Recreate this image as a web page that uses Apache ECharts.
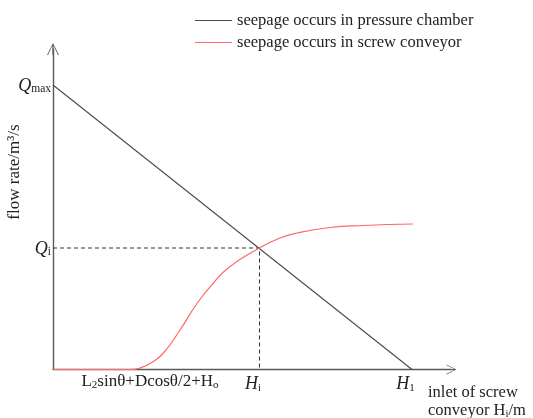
<!DOCTYPE html>
<html>
<head>
<meta charset="utf-8">
<script src="https://cdn.jsdelivr.net/npm/echarts@6/dist/echarts.min.js"></script>
<style>html,body{margin:0;padding:0;background:#fff;}#c{width:533px;height:418px;}</style>
</head>
<body>
<div id="c"></div>
<script>
// Data (axis units)
var seriesNames = ['seepage occurs in pressure chamber', 'seepage occurs in screw conveyor'];
var pressureChamber = [[0, 284.5], [359, 0]];
var screwConveyor = [[0, 0], [78, 0], [87, 1.5], [97, 6], [110, 16], [127, 39.5], [144, 66], [160, 86], [177, 103], [206.5, 121.5], [227, 131.5], [244, 136.5], [277, 142], [310, 144], [360, 145.5]];
var guideLine = [[0, 121.5], [206.5, 121.5], [206.5, 0]];
var xTickValues = [97, 206.5, 359];
var xTickLabels = ['L{sub|2}sinθ+Dcosθ/2+H{sub|o}', '{h|H}{hs|i}', '{h|H}{hs|1}'];
var yTickValues = [284.5, 121.5];
var yTickLabels = ['{q|Q}{sub|max}', '{q|Q}{sub|i}'];
var yAxisName = 'flow rate/m³/s';
var xAxisName = 'inlet of screw\nconveyor H{s|i}/m';

var FONT = '"Liberation Serif", "DejaVu Serif", serif';
var AX = '#5a5a5a';
var arrowPath = 'path://M0,12 L6,0 L12,12 L11,12 L6.6,2.8 L6.6,12 L5.4,12 L5.4,2.8 L1,12 Z';

var chart = echarts.init(document.getElementById('c'));
chart.setOption({
  backgroundColor: '#fff',
  animation: false,
  textStyle: {fontFamily: FONT},
  legend: {
    orient: 'vertical', left: 195, top: 12, padding: 0, itemWidth: 37, itemHeight: 1, itemGap: 5,
    icon: 'rect', data: seriesNames,
    textStyle: {fontFamily: FONT, fontSize: 16.5, color: '#222'}
  },
  grid: {left: 53, right: 81.5, top: 49, bottom: 48.5, containLabel: false},
  xAxis: {
    type: 'value', min: 0, max: 398.5,
    axisLine: {lineStyle: {color: AX, width: 1.4}, symbol: ['none', arrowPath], symbolSize: [10, 11]},
    axisTick: {show: false},
    splitLine: {show: false},
    axisLabel: {
      customValues: xTickValues, margin: 4, color: '#222', fontFamily: FONT, fontSize: 17,
      formatter: function (v) { var i = xTickValues.indexOf(v); return i >= 0 ? xTickLabels[i] : ''; },
      rich: {
        sub: {fontSize: 11, fontFamily: FONT, color: '#222', verticalAlign: 'bottom', lineHeight: 12},
        hs: {fontSize: 11, fontFamily: FONT, color: '#222', verticalAlign: 'bottom', lineHeight: 12, padding: [0, 13, 0, 0]},
        h: {fontSize: 18, fontFamily: FONT, fontStyle: 'italic', color: '#222', verticalAlign: 'bottom', lineHeight: 20}
      }
    }
  },
  yAxis: {
    type: 'value', min: 0, max: 320.5,
    axisLine: {lineStyle: {color: AX, width: 1.4}, symbol: ['none', arrowPath], symbolSize: [13, 12]},
    axisTick: {show: false},
    splitLine: {show: false},
    axisLabel: {
      customValues: yTickValues, margin: 2, color: '#222', fontFamily: FONT, fontSize: 16,
      formatter: function (v) { var i = yTickValues.indexOf(v); return i >= 0 ? yTickLabels[i] : ''; },
      rich: {
        q: {fontSize: 18, fontFamily: FONT, fontStyle: 'italic', color: '#222', verticalAlign: 'bottom', lineHeight: 20},
        sub: {fontSize: 11.5, fontFamily: FONT, color: '#222', verticalAlign: 'bottom', lineHeight: 12}
      }
    }
  },
  graphic: [
    {type: 'text', x: 15, y: 172, rotation: Math.PI / 2,
     style: {text: yAxisName, font: '17px ' + FONT, fill: '#222', align: 'center', verticalAlign: 'middle'}},
    {type: 'text', x: 428, y: 384,
     style: {text: xAxisName, font: '16.5px ' + FONT, fill: '#222', lineHeight: 18,
       rich: {s: {fontSize: 11, fontFamily: FONT, fill: '#222', verticalAlign: 'bottom', lineHeight: 12}}}}
  ],
  series: [
    {name: seriesNames[0], type: 'line', data: pressureChamber, symbol: 'none', color: '#4a4a4a',
     lineStyle: {color: '#4a4a4a', width: 1.1}, silent: true},
    {name: seriesNames[1], type: 'line', data: screwConveyor, symbol: 'none', color: '#ff6666',
     smooth: 0.5, lineStyle: {color: '#ff6666', width: 1.2}, silent: true},
    {name: 'guide', type: 'line', data: guideLine, symbol: 'none',
     lineStyle: {color: '#333', width: 1, type: [4, 3]}, silent: true, z: 1}
  ]
});
</script>
</body>
</html>
